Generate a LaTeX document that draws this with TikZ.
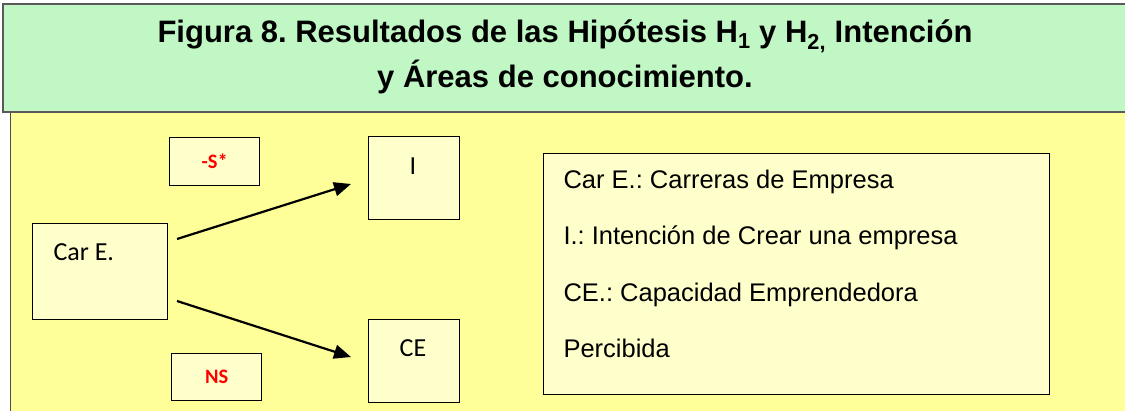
\documentclass[tikz,border=0pt]{standalone}
\usepackage{fontspec}
\setmainfont{Liberation Sans}
\newfontfamily\carlitofam{Carlito}
\usetikzlibrary{arrows.meta}
\frenchspacing
\definecolor{titlegreen}{HTML}{C0F7C4}
\definecolor{bgyellow}{HTML}{FFFF99}
\definecolor{boxyellow}{HTML}{FFFFCC}
\definecolor{sigred}{HTML}{FF0000}
\tikzset{
  varbox/.style={draw=black, line width=1.4pt, fill=boxyellow, anchor=north west, inner sep=0pt},
  lbl/.style={font=\carlitofam\fontsize{26}{30}\selectfont, text=black},
  sigtxt/.style={font=\carlitofam\bfseries\fontsize{20.5}{24}\selectfont, text=sigred},
  conn/.style={line width=2.2pt, -{Triangle[length=17pt,width=14pt]}},
  legtxt/.style={anchor=west, font=\fontsize{25.5}{30}\selectfont},
}
\begin{document}
\begin{tikzpicture}[x=1pt,y=-1pt]
\useasboundingbox (0,0) rectangle (1125,410);
% backgrounds
\fill[bgyellow] (10,112) rectangle (1130,415);
\draw[gray!60!black, line width=1pt] (10,112) -- (10,412);
\draw[fill=titlegreen, draw=gray!70!black, line width=1.2pt] (3,4) rectangle (1130,112);
\node[font=\bfseries\fontsize{31}{36}\selectfont, align=center] (title) at (565,57)
  {Figura 8. Resultados de las Hipótesis H\textsubscript{1} y H\textsubscript{2,} Intención\\[7pt]y Áreas de conocimiento.};
% boxes
\node[varbox, minimum width=90pt, minimum height=48pt] (s) at (169,137) {};
\node[sigtxt] (stxt) at (s.center) {-S*};
\node[varbox, minimum width=91pt, minimum height=83pt] (i) at (368,136) {};
\node[lbl] (itxt) at (413,166) {I};
\node[varbox, minimum width=135pt, minimum height=96pt] (car) at (32,223) {};
\node[lbl, anchor=west] (cartxt) at (50,252) {Car E.};
\node[varbox, minimum width=91pt, minimum height=83pt] (ce) at (368,319) {};
\node[lbl] (cetxt) at (413,348) {CE};
\node[varbox, minimum width=90pt, minimum height=47pt] (ns) at (171,353) {};
\node[sigtxt] (nstxt) at (ns.center) {NS};
% connectors
\coordinate (a1s) at (177,239);
\coordinate (a1e) at (351,184);
\coordinate (a2s) at (177,301);
\coordinate (a2e) at (351,357);
\draw[conn] (a1s) -- (a1e);
\draw[conn] (a2s) -- (a2e);
% legend
\node[varbox, line width=1.2pt, minimum width=506pt, minimum height=241pt] (leg) at (543,153) {};
\node[legtxt] (l1) at (560,182) {Car E.: Carreras de Empresa};
\node[legtxt] (l2) at (560,238) {I.: Intención de Crear una empresa};
\node[legtxt] (l3) at (560,295) {CE.: Capacidad Emprendedora};
\node[legtxt] (l4) at (560,348) {Percibida};
\end{tikzpicture}
\end{document}
